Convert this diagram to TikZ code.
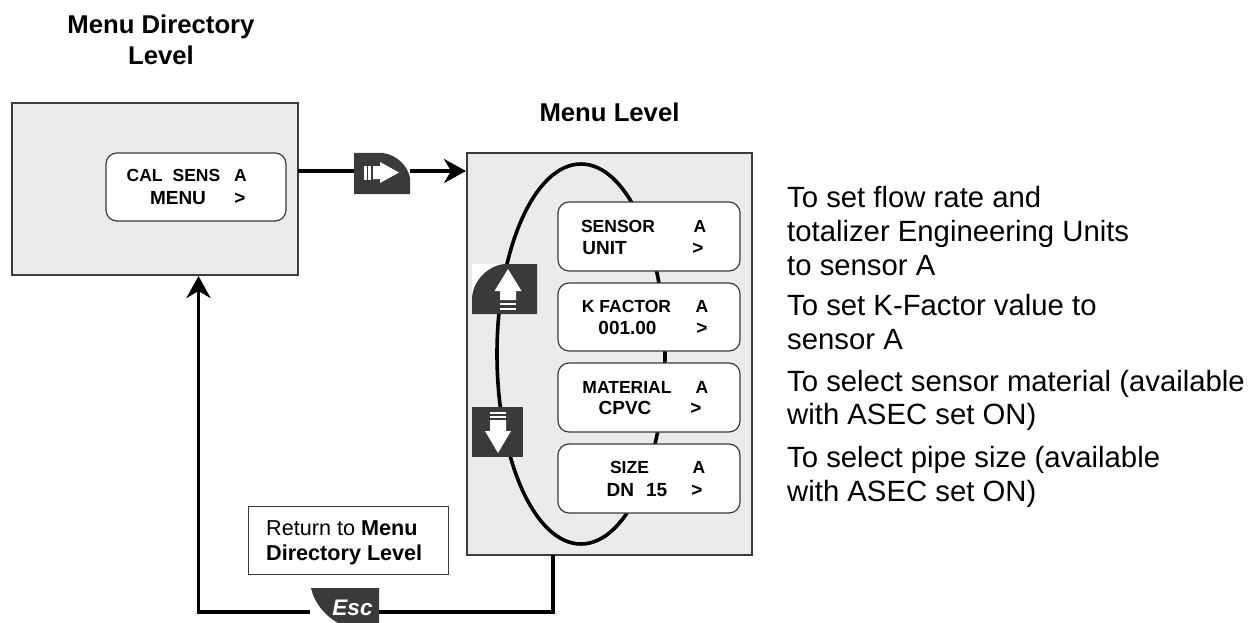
\documentclass[tikz,border=0pt]{standalone}
\usepackage{fontspec}
\setmainfont{Liberation Sans}
\usetikzlibrary{arrows.meta}
\definecolor{panel}{HTML}{EBEBEB}
\definecolor{keyc}{HTML}{3A3A3A}
\definecolor{edge}{HTML}{3C3C3C}
\tikzset{
 lcd/.style={draw=edge,fill=white,line width=1.2pt,rounded corners=11pt},
 lcdtxt/.style={font=\bfseries\fontsize{17.5}{17.5}\selectfont,anchor=base,inner sep=0pt},
 lcdbig/.style={lcdtxt,font=\bfseries\fontsize{19}{19}\selectfont},
 head/.style={font=\bfseries\fontsize{25.7}{31}\selectfont,anchor=base,align=center,inner sep=0pt},
 note/.style={font=\fontsize{29.3}{29.3}\selectfont,anchor=base west,inner sep=0pt},
 rettext/.style={font=\fontsize{21.6}{25}\selectfont,anchor=base west,inner sep=0pt},
 conn/.style={line width=3.6pt,draw=black},
 arrowconn/.style={conn,-{Stealth[length=22pt,width=24pt,inset=7pt]}},
 keysh/.style={fill=keyc,draw=none},
 glyph/.style={fill=white,draw=none},
}
\begin{document}
\begin{tikzpicture}[x=1pt,y=-1pt]
\useasboundingbox (0,0) rectangle (1250,623);
% panels
\path[draw=edge,fill=panel,line width=1.5pt] (12,103) rectangle (298,275);
\path[draw=edge,fill=panel,line width=1.5pt] (467,153) rectangle (752,555);
\coordinate (dirR) at (298,171);
\coordinate (dirB) at (198.5,276);
\coordinate (menuL) at (466,171);
\coordinate (menuB) at (553,555);
\coordinate (cornerR) at (553,612);
\coordinate (cornerL) at (198.5,612);
% loop
\draw[line width=3.6pt] (581,354) ellipse [x radius=84,y radius=190];
% headings
\node[head] (t1) at (161,34) {Menu Directory};
\node[head] (t1b) at (161,65) {Level};
\node[head] (t2) at (609.5,122) {Menu Level};
\draw[lcd] (106,153) rectangle (286,221);
\node[lcdtxt] (c1) at (173.5,182) {CAL\hspace{10pt}SENS};
\node[lcdtxt] (c1a) at (240.5,182) {A};
\node[lcdbig] (c2) at (178,204) {MENU};
\node[lcdbig] (c2a) at (240,204) {>};
% LCDs
\draw[lcd] (558,202) rectangle (740,271);
\node[lcdtxt] at (618,232) {SENSOR};
\node[lcdtxt] at (700,232) {A};
\node[lcdbig] at (604.5,254) {UNIT};
\node[lcdbig] at (698,254) {>};
\draw[lcd] (558,283) rectangle (740,351);
\node[lcdtxt] at (626.5,312) {K FACTOR};
\node[lcdtxt] at (702,312) {A};
\node[lcdbig] at (627.5,334) {001.00};
\node[lcdbig] at (702,334) {>};
\draw[lcd] (558,363) rectangle (740,432);
\node[lcdtxt] at (627,393) {MATERIAL};
\node[lcdtxt] at (702,393) {A};
\node[lcdbig] at (625,414) {CPVC};
\node[lcdbig] at (696,414) {>};
\draw[lcd] (558,444) rectangle (740,513);
\node[lcdtxt] at (629.5,473) {SIZE};
\node[lcdtxt] at (699,473) {A};
\node[lcdbig] at (637,496) {DN\hspace{12pt}15};
\node[lcdbig] at (697,496) {>};
% keys
\coordinate (kR) at (354,171);
\coordinate (kRe) at (410,171);
\path[keysh] (354,153) -- (383,153) .. controls (397,155) and (408,166) .. (410,178) -- (410,194) -- (354,194) -- cycle;
\path[glyph] (373,166) -- (380,166) -- (380,162) -- (399,172.5) -- (380,183) -- (380,179) -- (373,179) -- cycle;
\path[glyph] (364,166) rectangle (366.5,180);
\path[glyph] (368,166) rectangle (370.5,180);
\path[fill=white] (472,264) rectangle (510,300);
\path[keysh] (472,314) -- (472,298) .. controls (473,280) and (489,265) .. (505,264) -- (537,264) -- (537,314) -- cycle;
\path[glyph] (508,269) -- (521.5,291) -- (516,291) -- (516,300) -- (500,300) -- (500,291) -- (494.5,291) -- cycle;
\path[glyph] (500,303) rectangle (516,305);
\path[glyph] (500,307.5) rectangle (516,309.5);
\path[keysh] (472,407) rectangle (523,457);
\path[glyph] (490,412) rectangle (506,414);
\path[glyph] (490,416) rectangle (506,418);
\path[glyph] (490,420) -- (506,420) -- (506,431) -- (511,431) -- (498,453) -- (485,431) -- (490,431) -- cycle;
% connectors
\draw[conn] (dirR) -- (kR);
\draw[arrowconn] (kRe) -- (menuL);
\draw[arrowconn] (menuB) -- (cornerR) -- (cornerL) -- (dirB);
% return box
\node[draw=edge,fill=white,line width=1.2pt,minimum width=200pt,minimum height=68pt,inner sep=0pt,anchor=north west] (ret) at (248,506) {};
\node[rettext] (rett) at (266,535) {Return to \textbf{Menu}};
\node[rettext] (rettb) at (266,560) {\textbf{Directory Level}};
% esc
\path[fill=white] (310,600) rectangle (379,623);
\path[keysh] (311,588) -- (379,588) -- (379,623) -- (338,623) .. controls (324,615) and (314,602) .. (311,588) -- cycle;
\node[font=\bfseries\itshape\fontsize{22.5}{22.5}\selectfont,text=white,inner sep=0pt,anchor=base] (esc) at (352.5,615) {Esc};
% notes
\node[note] at (787,207) {To set flow rate and};
\node[note] at (787,241) {totalizer Engineering Units};
\node[note] at (787,275) {to sensor A};
\node[note] at (787,315) {To set K-Factor value to};
\node[note] at (787,349) {sensor A};
\node[note] at (787,391) {To select sensor material (available};
\node[note] at (787,424) {with ASEC set ON)};
\node[note] at (787,467) {To select pipe size (available};
\node[note] at (787,501) {with ASEC set ON)};
\end{tikzpicture}
\end{document}
